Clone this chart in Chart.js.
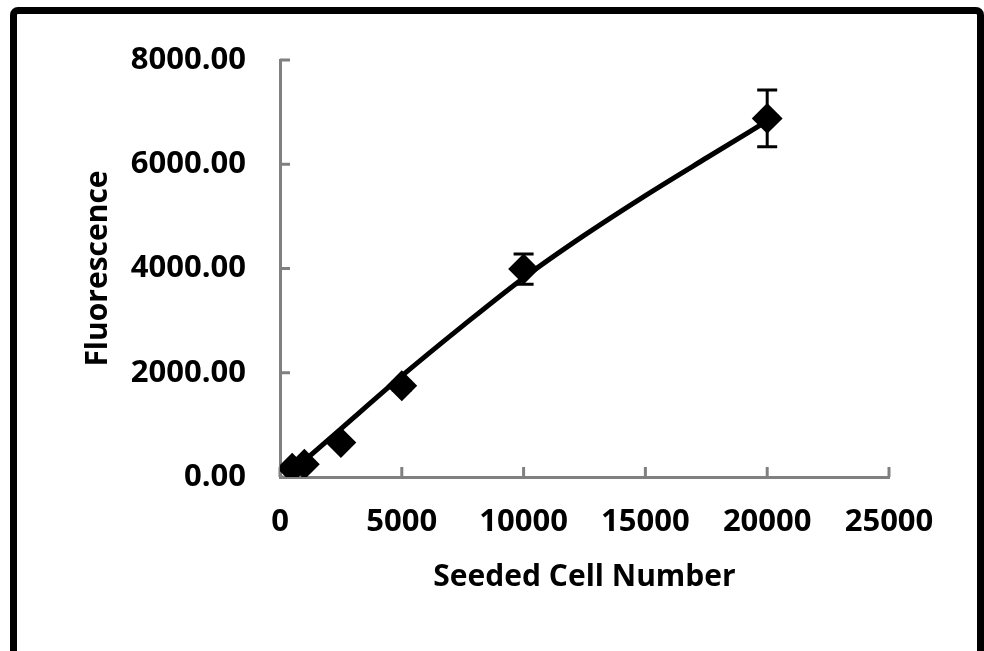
<!doctype html>
<html lang="en">
<head>
  <meta charset="utf-8">
  <title>Fluorescence vs Seeded Cell Number</title>
  <style>
    * {
      margin: 0;
      padding: 0;
    }
    body {
      width: 984px;
      height: 651px;
      overflow: hidden;
      background: white;
      position: relative;
    }
    #myChart {
      position: absolute;
      left: 0;
      top: 0;
    }
    /* black frame round the picture, bottom edge runs off the page */
    .frame {
      position: absolute;
      left: 10px;
      top: 7px;
      width: 960px;
      height: 660px;
      border: 7px solid black;
      border-radius: 8px;
      pointer-events: none;
    }
  </style>
</head>
<body>
  <canvas id="myChart" width="984" height="651"></canvas>
  <div class="frame"></div>

  <script src="https://cdn.jsdelivr.net/npm/chart.js"></script>
  <script>
    // measured points
    const cellNumbers = [500, 1000, 2500, 5000, 10000, 20000];
    const fluorescence = [170, 245, 660, 1750, 3990, 6880];
    const fluorErrors = [20, 30, 50, 80, 290, 545];

    // trendline
    const trendCells = [500, 2500, 5000, 7500, 10000, 12500, 15000, 17500, 20000];
    const trendFluor = [110, 925, 1940, 2900, 3820, 4640, 5400, 6120, 6830];

    // axis ticks
    const xTickValues = [0, 5000, 10000, 15000, 20000, 25000];
    const yTickValues = [0, 2000, 4000, 6000, 8000];

    const axisGray = '#808080';
    const fontFamily = '"Open Sans", sans-serif';

    // tick marks pointing into the plot + error bars
    const extrasPlugin = {
      id: 'extras',
      beforeDatasetsDraw(chart) {
        const ctx = chart.ctx;
        const x = chart.scales.x;
        const y = chart.scales.y;
        ctx.save();
        ctx.strokeStyle = axisGray;
        ctx.lineWidth = 3;
        ctx.beginPath();
        yTickValues.forEach(v => {
          const py = y.getPixelForValue(v);
          ctx.moveTo(x.left, py);
          ctx.lineTo(x.left + 10, py);
        });
        xTickValues.forEach(v => {
          const px = x.getPixelForValue(v);
          ctx.moveTo(px, y.bottom);
          ctx.lineTo(px, y.bottom - 10);
        });
        ctx.stroke();

        // error bars
        ctx.strokeStyle = 'black';
        ctx.lineWidth = 3;
        ctx.beginPath();
        cellNumbers.forEach((c, i) => {
          const px = x.getPixelForValue(c);
          const top = y.getPixelForValue(fluorescence[i] + fluorErrors[i]);
          const bot = y.getPixelForValue(fluorescence[i] - fluorErrors[i]);
          ctx.moveTo(px, top);
          ctx.lineTo(px, bot);
          ctx.moveTo(px - 10, top);
          ctx.lineTo(px + 10, top);
          ctx.moveTo(px - 10, bot);
          ctx.lineTo(px + 10, bot);
        });
        ctx.stroke();
        ctx.restore();
      }
    };

    const data = {
      datasets: [
        {
          label: 'Fluorescence',
          type: 'scatter',
          data: cellNumbers.map((c, i) => ({x: c, y: fluorescence[i]})),
          pointStyle: 'rectRot',
          pointRadius: 14,
          backgroundColor: 'black',
          borderColor: 'black',
          borderWidth: 2,
          showLine: false
        },
        {
          label: 'Trendline',
          type: 'line',
          data: trendCells.map((c, i) => ({x: c, y: trendFluor[i]})),
          borderColor: 'black',
          borderWidth: 5,
          pointRadius: 0,
          cubicInterpolationMode: 'monotone',
          fill: false
        }
      ]
    };

    const config = {
      type: 'scatter',
      data,
      plugins: [extrasPlugin],
      options: {
        responsive: false,
        animation: false,
        events: [],
        layout: {
          padding: {left: 0, right: 95, top: 60, bottom: 0}
        },
        scales: {
          x: {
            type: 'linear',
            min: 0,
            max: 25000,
            afterBuildTicks: scale => {
              scale.ticks = xTickValues.map(v => ({value: v}));
            },
            afterFit: scale => {
              scale.height = 174;
            },
            grid: {display: false, drawTicks: false},
            border: {display: true, color: axisGray, width: 3},
            ticks: {
              padding: 27,
              color: 'black',
              maxRotation: 0,
              font: {family: fontFamily, size: 31, weight: 'bold'},
              callback: v => String(v)
            },
            title: {
              display: true,
              text: 'Seeded Cell Number',
              color: 'black',
              padding: {top: 0, bottom: 56},
              font: {family: fontFamily, size: 30, weight: 'bold'}
            }
          },
          y: {
            type: 'linear',
            min: 0,
            max: 8000,
            afterBuildTicks: scale => {
              scale.ticks = yTickValues.map(v => ({value: v}));
            },
            afterFit: scale => {
              scale.width = 280;
            },
            grid: {display: false, drawTicks: false},
            border: {display: true, color: axisGray, width: 3},
            ticks: {
              padding: 34,
              color: 'black',
              font: {family: fontFamily, size: 31, weight: 'bold'},
              callback: v => Number(v).toFixed(2)
            },
            title: {
              display: true,
              text: 'Fluorescence',
              color: 'black',
              padding: {top: 80, bottom: 0},
              font: {family: fontFamily, size: 30, weight: 'bold'}
            }
          }
        },
        plugins: {
          legend: {display: false},
          tooltip: {enabled: false},
          title: {display: false}
        }
      }
    };

    const myChart = new Chart(document.getElementById('myChart'), config);
  </script>
</body>
</html>
